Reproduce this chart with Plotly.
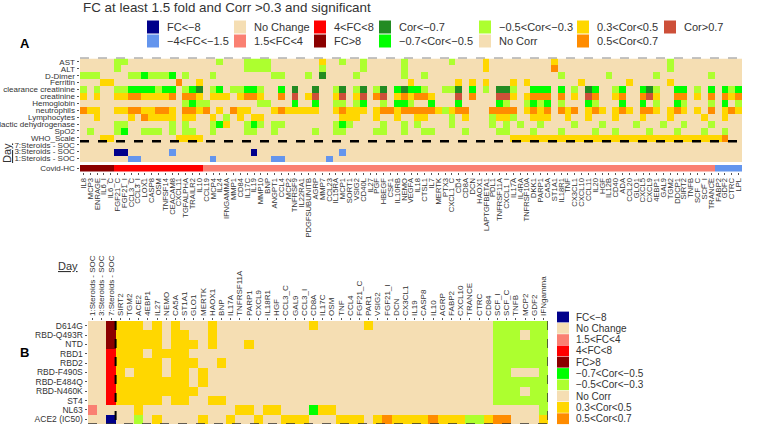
import plotly.graph_objects as go

W, H = 783, 429
FONT = "Liberation Sans"
TXT = "#333333"

# category codes -> colours
CODES = ".NbsrRGgyoOT"
COLORS = ["#F5DEB3", "#00008B", "#6495ED", "#FA8072", "#FF0000", "#8B0000",
          "#228B22", "#00FF00", "#ADFF2F", "#FFD700", "#FF8C00", "#CD4F39"]

TITLE = "FC at least 1.5 fold and Corr >0.3 and significant"

TOP_LEGEND = [
    [("N", "FC<−8"), ("b", "−4<FC<−1.5")],
    [(".", "No Change"), ("s", "1.5<FC<4")],
    [("r", "4<FC<8"), ("R", "FC>8")],
    [("G", "Cor<−0.7"), ("g", "−0.7<Cor<−0.5")],
    [("y", "−0.5<Cor<−0.3"), (".", "No Corr")],
    [("o", "0.3<Cor<0.5"), ("O", "0.5<Cor<0.7")],
    [("T", "Cor>0.7")],
]
B_LEGEND = [("N", "FC<−8"), (".", "No Change"), ("s", "1.5<FC<4"), ("r", "4<FC<8"),
            ("R", "FC>8"), ("g", "−0.7<Cor<−0.5"), ("y", "−0.5<Cor<−0.3"),
            (".", "No Corr"), ("o", "0.3<Cor<0.5"), ("O", "0.5<Cor<0.7")]

# ---------------- Panel A ----------------
A_ROWS = ["AST", "ALT", "D-Dimer", "Ferritin", "clearance creatinine", "creatinine",
          "Hemoglobin", "neutrophils", "Lymphocytes", "lactic dehydrogenase", "SpO2",
          "WHO_Scale", "7:Steroids - SOC", "3:Steroids - SOC", "1:Steroids - SOC"]
A_COLS = ["IL8", "MCP3", "ENRAGE", "IL6_I", "IL6_C", "FGF21_C", "FGF21_I", "CCL3_C", "CCL3_I", "LOX1",
          "CASP8", "OSM", "TNFSF14", "CEACAM8", "CXCL11", "TGFALPHA", "TRAILR2", "IL10", "CCL19", "MCP4",
          "IL24", "IFNGAMMA", "MMP1", "CD84", "IL17C", "IL19", "MMP10", "BNP", "ANGPT1", "CCL4",
          "MCP2", "TNFRSF9", "IL22RA1", "PDGFSUBUNITB", "AGRP", "MMP7", "CCL23", "IL15RA", "MCP1", "SORT1",
          "VSIG2", "CD40L", "IL27", "PGF", "HBEGF", "CSF1", "IL10RB", "NEMO", "VEGFA", "IL18",
          "CTSL1", "IL7", "MERTK", "PTX3", "CXCL1_C", "CD4", "CD8A", "DCN", "HAOX1", "LAPTGFBETA1",
          "PDL1", "TNFRSF11A", "CXCL1_I", "IL17A", "IL4RA", "TNFRSF10A", "DKK1", "PARP1", "CA5A", "ST1A1",
          "IL18R1", "TNF", "CX3CL1", "CXCL10", "CCL11", "IL20", "HGF", "IL12B", "CD40", "ADA",
          "CCL20", "GLO1", "CXCL5", "CXCL9", "4EBP1", "GAL9", "TGM2", "DDCP1", "SIRT2", "TNFB",
          "SCF_C", "SCF_I", "TRANCE", "FABP2", "GDF2", "CTRC", "LPL"]

A_CELLS = {
    "AST":        ".....yy... .......... y...yyyy.. .....o..y. .y.....y.. ....y....o .........o .......... ......y... .......",
    "ALT":        ".....y.... .......... ....yyyy.. .....y.... .y.....y.. .........o .........O .......... ......y... .......",
    "D-Dimer":    "yyy....yyg yyyg.y...y ........yy ...y.G.... y......y.. y......... .......... y......y.. ....y..... ..y....",
    "Ferritin":   "...oo..... ....O..o.. .......... .......... ........o. .....o.o.o ...o.o.... ...o...... o.....o... .......",
    "clearance creatinine":
                  "y.y..yyggg gygg.ygG.y g.yyggy..g .G..G..yG. yG.yG.gGgg y..yyG.g.y .GGy..ggg. g.y.Gg..yg ..gGy..gg. y.g.gyg",
    "creatinine": "o.o..ooOOo oooO.OOo.o oo.oOOo..O .T.oT..oT. oT.OT.oOoO Oo...T.O.. .TTo.oOOO. O.o.TO..oO ..OTo..OO. o.O.OoO",
    "Hemoglobin": ".......... .....ygyy. ......yy.. .g..g..yy. yg..y.ggy. .g...g.... .gy..ygyg. y...gy...g ..g.y..gy. ..y.g.y",
    "neutrophils":"Ooo..ooOOo oOOo.OOoO. o.Ooo...oO ooooo..oOo oo.oOOoOOO OOoyoOO... OOOO.oOoO. OoO.oOo.oO o.OOo.oOo. o.O.oOo",
    "Lymphocytes":"..o....o.O oooo.oo..o .y.o.oo... ........oo o..o..o..o o...y.o... yooy..ooo. .o..o...o. ..o...o... .o..o..",
    "lactic dehydrogenase":
                  ".....yy... ...y.y...y go..ygy.yy .......ygy ....y..y.y ....y..... y.y.y..y.. ..y...y... .y...y..y. ..y....",
    "SpO2":       ".y...yg..y yy.y.yy..y ....yy..y. ....y..yy. ...yy..y.. yy....y... .yy...y... y....y..y. ...y...y.. .y..y..",
    "WHO_Scale":  "...oo..... ....oooo.. .......... .......... .......... .......... ...ooooooo oooooooooo oooooooooo ooooO..",
    "7:Steroids - SOC":
                  ".......... .......... .......... .......... .......... .......... .......... .......... .......... .......",
    "3:Steroids - SOC":
                  ".....NN... ...b...... .....N.... ........b. .......... .......... .......... .......... .......... .......",
    "1:Steroids - SOC":
                  ".......bb. .........b ........bb ......b... .......... .......... .......... .......... .......... .......",
}
A_COVID_HC = "RRRRRrrrrr rrrrrrrrss ssssssssss ssssssssss ssssssssss ssssssssss ssssssssss ssssssssss ssssssssss sssbbbb"

# ---------------- Panel B ----------------
B_ROWS = ["D614G", "RBD-Q493R", "NTD", "RBD1", "RBD2", "RBD-F490S", "RBD-E484Q",
          "RBD-N460K", "ST4", "NL63", "ACE2 (IC50)"]
B_COLS = ["1:Steroids - SOC", "3:Steroids - SOC", "7:Steroids - SOC", "SIRT2", "TGM2", "ACE2", "4EBP1",
          "IL27", "NEMO", "CA5A", "ST1A1", "GLO1", "MERTK", "HAOX1", "BNP", "IL17A", "TNFRSF11A",
          "PARP1", "CXCL9", "IL18R1", "HGF", "CCL3_C", "GAL9", "CCL3_I", "CD8A", "IL17C", "OSM", "TNF",
          "CCL4", "FGF21_C", "PAR1", "VSIG2", "FGF21_I", "DCN", "CX3CL1", "IL19", "CASP8", "IL10",
          "AGRP", "FABP2", "CXCL10", "TRANCE", "CTRC", "CD84", "SCF_I", "SCF_C", "TNFB", "MCP2",
          "GDF2", "IFNgamma"]
B_CELLS = {
    "D614G":       "..Rooo.o.o ...o...... ....o..... o......... ....yyyyyy",
    "RBD-Q493R":   "..Rooooo.o o..o...... .......... .......... ....yyy.yy",
    "NTD":         "..Rooooo.o oo.o...o.. .......... .......... ....yyyyyy",
    "RBD1":        "..rooo.ooo o......... .......... .......... ....yyyyyy",
    "RBD2":        "..rooooo.o oo..o..... .......... .......... ....yyyyyy",
    "RBD-F490S":   "..ro.ooo.o o.o....... .......... .......... ....yy...y",
    "RBD-E484Q":   "..rooooooo o.o....... .......... .......... ....yyyyyy",
    "RBD-N460K":   "..rooooooo oo........ .......... .......... ....yyy.yy",
    "ST4":         "..rooooo.o o..oo..... .......... .......... ....yyyyyy",
    "NL63":        "s....o.... ......oo.o o...goo... .......... .........y",
    "ACE2 (IC50)": "..N..y.o.. ..o..o..o. .ooo...ooo .oOooooOoo oyyoOO...o",
}


def to_idx(s):
    return [CODES.index(ch) for ch in s.replace(" ", "")]


def px(x):
    return x / W


def py(y):
    return 1 - y / H


NC = len(CODES)
cscale = []
for i, c in enumerate(COLORS):
    cscale.append([i / NC, c])
    cscale.append([(i + 1) / NC, c])

zA = [to_idx(A_CELLS[r]) for r in A_ROWS]
zC = [to_idx(A_COVID_HC)]
zB = [to_idx(B_CELLS[r]) for r in B_ROWS]
nA = len(A_COLS)
nB = len(B_COLS)

hm = dict(colorscale=cscale, zmin=-0.5, zmax=NC - 0.5, showscale=False, hoverinfo="skip")
fig = go.Figure()
fig.add_trace(go.Heatmap(z=zA, x=list(range(nA)), y=list(range(len(A_ROWS))), xaxis="x", yaxis="y", **hm))
fig.add_trace(go.Heatmap(z=zC, x=list(range(nA)), y=[0], xaxis="x2", yaxis="y2", **hm))
fig.add_trace(go.Heatmap(z=zB, x=list(range(nB)), y=list(range(len(B_ROWS))), xaxis="x3", yaxis="y3", **hm))

# geometry (pixels)
AX0, AX1 = 80, 742
AY0, AY1 = 58.5, 162
CY0, CY1 = 165, 171.5
BX0, BX1 = 88, 548
BY0, BY1 = 321, 424

ax_common = dict(showgrid=False, zeroline=False, showline=False, automargin=False,
                 ticks="outside", ticklen=2.5, tickwidth=1, tickcolor="#555555")
fig.update_layout(
    width=W, height=H, margin=dict(l=0, r=0, t=0, b=0), template="none",
    paper_bgcolor="white", plot_bgcolor="white", showlegend=False,
    font=dict(family=FONT, color=TXT),
    xaxis=dict(domain=[px(AX0), px(AX1)], range=[-0.5, nA - 0.5], showticklabels=False,
               showgrid=False, zeroline=False, ticks="", automargin=False),
    yaxis=dict(domain=[py(AY1), py(AY0)], range=[len(A_ROWS) - 0.5, -0.5],
               tickvals=list(range(len(A_ROWS))), ticktext=A_ROWS,
               tickfont=dict(size=8, family=FONT, color=TXT), **ax_common),
    xaxis2=dict(domain=[px(AX0), px(AX1)], range=[-0.5, nA - 0.5], anchor="y2",
                tickvals=list(range(nA)), ticktext=A_COLS, tickangle=-90,
                tickfont=dict(size=7.6, family=FONT, color=TXT), **ax_common),
    yaxis2=dict(domain=[py(CY1), py(CY0)], range=[-0.5, 0.5], anchor="x2",
                tickvals=[0], ticktext=["Covid-HC"],
                tickfont=dict(size=8, family=FONT, color=TXT), **ax_common),
    xaxis3=dict(domain=[px(BX0), px(BX1)], range=[-0.5, nB - 0.5], anchor="y3", side="top",
                tickvals=list(range(nB)), ticktext=B_COLS, tickangle=-90,
                tickfont=dict(size=8, family=FONT, color=TXT), **ax_common),
    yaxis3=dict(domain=[py(BY1), py(BY0)], range=[len(B_ROWS) - 0.5, -0.5], anchor="x3",
                tickvals=list(range(len(B_ROWS))), ticktext=B_ROWS,
                tickfont=dict(size=8.5, family=FONT, color=TXT), **ax_common),
)

shapes = []
ann = []
# dashed separators
shapes.append(dict(type="line", xref="paper", yref="paper", x0=px(AX0), x1=px(AX1),
                   y0=py(58), y1=py(58), line=dict(color="#888888", width=1, dash="dash")))
shapes.append(dict(type="line", xref="x", yref="y", x0=-0.5, x1=nA - 0.5, y0=11.5, y1=11.5,
                   line=dict(color="black", width=2.5, dash="dash")))
shapes.append(dict(type="line", xref="x3", yref="y3", x0=2.5, x1=2.5, y0=-0.5, y1=len(B_ROWS) - 0.5,
                   line=dict(color="black", width=2, dash="dash")))
shapes.append(dict(type="line", xref="x3", yref="y3", x0=-0.5, x1=nB - 0.5,
                   y0=len(B_ROWS) - 0.5, y1=len(B_ROWS) - 0.5,
                   line=dict(color="#333333", width=1.5, dash="dash")))
shapes.append(dict(type="line", xref="x3", yref="y3", x0=nB - 0.5, x1=nB - 0.5,
                   y0=-0.5, y1=len(B_ROWS) - 0.5,
                   line=dict(color="#333333", width=1.5, dash="dash")))

# title and panel letters
ann.append(dict(text=TITLE, x=px(81), y=py(7.5), xref="paper", yref="paper", showarrow=False,
                xanchor="left", yanchor="middle", font=dict(size=13.4, color=TXT)))
ann.append(dict(text="<b>A</b>", x=px(18), y=py(43), xref="paper", yref="paper", showarrow=False,
                xanchor="left", yanchor="middle", font=dict(size=13, color="black")))
ann.append(dict(text="<b>B</b>", x=px(18), y=py(352), xref="paper", yref="paper", showarrow=False,
                xanchor="left", yanchor="middle", font=dict(size=13, color="black")))
ann.append(dict(text="<u>Day</u>", x=px(7), y=py(153), xref="paper", yref="paper", showarrow=False,
                textangle=-90, xanchor="center", yanchor="middle", font=dict(size=11, color=TXT)))
ann.append(dict(text="<u>Day</u>", x=px(68), y=py(266), xref="paper", yref="paper", showarrow=False,
                xanchor="center", yanchor="middle", font=dict(size=11, color=TXT)))

# top legend
TEXT_X = [165, 252, 332, 397, 497, 595, 682]
ROW_Y = [27, 41]
for ci, col in enumerate(TOP_LEGEND):
    for ri, (code, lab) in enumerate(col):
        cx = TEXT_X[ci] - 18
        cy = ROW_Y[ri]
        shapes.append(dict(type="rect", xref="paper", yref="paper", x0=px(cx), x1=px(cx + 12),
                           y0=py(cy + 6.5), y1=py(cy - 6.5), line=dict(width=0),
                           fillcolor=COLORS[CODES.index(code)]))
        ann.append(dict(text=lab, x=px(TEXT_X[ci]), y=py(cy), xref="paper", yref="paper",
                        showarrow=False, xanchor="left", yanchor="middle",
                        font=dict(size=11, color=TXT)))

# panel B legend
for i, (code, lab) in enumerate(B_LEGEND):
    cy = 317 + 11.3 * i
    shapes.append(dict(type="rect", xref="paper", yref="paper", x0=px(557), x1=px(569),
                       y0=py(cy + 5.4), y1=py(cy - 5.4), line=dict(width=0),
                       fillcolor=COLORS[CODES.index(code)]))
    ann.append(dict(text=lab, x=px(574), y=py(cy), xref="paper", yref="paper",
                    showarrow=False, xanchor="left", yanchor="middle",
                    font=dict(size=10, color=TXT)))

fig.update_layout(shapes=shapes, annotations=ann)
fig.write_html("out.html", config={"displayModeBar": False},
               post_script="document.body.style.margin='0';document.body.style.padding='0';")
